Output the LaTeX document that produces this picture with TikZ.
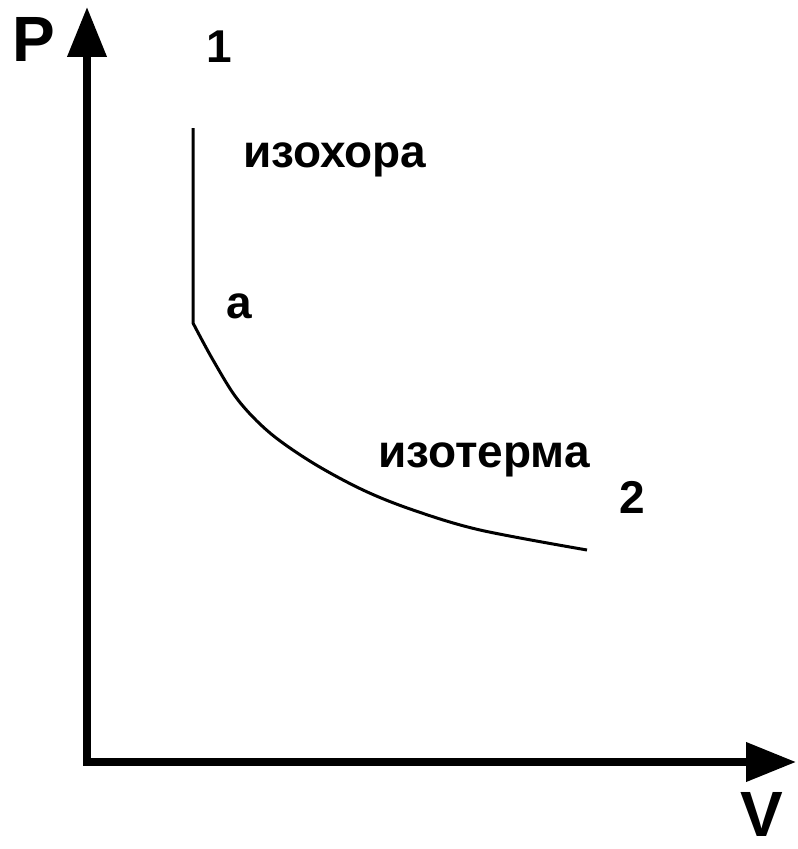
\documentclass[tikz,border=0pt]{standalone}
\usepackage{fontspec}
\setmainfont{Liberation Sans}
\usetikzlibrary{arrows.meta}

\tikzset{
  axis/.style={line width=5.5pt, line join=miter, {Triangle[width=28.5pt,length=37.5pt]}-{Triangle[width=28.5pt,length=37.5pt]}},
  curve/.style={line width=2.25pt, line join=round},
  biglbl/.style={font=\bfseries\fontsize{48}{56}\selectfont, inner sep=0pt},
  lbl/.style={font=\bfseries\fontsize{34.5}{40}\selectfont, inner sep=0pt}
}

\begin{document}
\begin{tikzpicture}[x=0.75pt, y=-0.75pt]
  \useasboundingbox (0,0) rectangle (798,849);
  % axes
  \coordinate (O) at (87,762);
  \coordinate (Ptip) at (87,7);
  \coordinate (Vtip) at (796,762);
  \draw[axis] (Ptip) -- (O) -- (Vtip);
  \node[biglbl, anchor=base west] (labP) at (12,61) {P};
  \node[biglbl, anchor=base] (labV) at (762,836) {V};
  % process 1 - a - 2
  \coordinate (s1) at (193,128);
  \coordinate (sa) at (193,323);
  \coordinate (s2) at (587,550);
  \draw[curve] (s1) -- (sa) -- plot[smooth, tension=0.55] coordinates {(sa) (213,360) (238,400) (270,433) (313,463) (363,490) (413,510) (480,530) (s2)};
  \node[lbl, anchor=base] (lab1) at (219,63) {1};
  \node[lbl, anchor=base] (laba) at (239,318) {а};
  \node[lbl, anchor=base] (lab2) at (632,513) {2};
  \node[lbl, anchor=base west] (isochor) at (243,167) {изохора};
  \node[lbl, anchor=base west] (isotherm) at (378,467) {изотерма};
\end{tikzpicture}
\end{document}
